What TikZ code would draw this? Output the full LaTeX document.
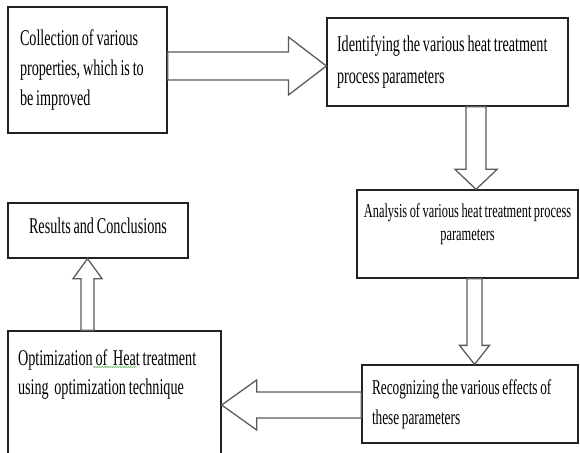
\documentclass[tikz,border=0pt]{standalone}
\usepackage{fontspec}
\usepackage{tikz}
\usetikzlibrary{calc, decorations.pathmorphing}
\newfontfamily\boxfont{Liberation Serif}[FakeStretch=0.63, WordSpace={0.8,0,0}]
\definecolor{bcol}{HTML}{222222}
\definecolor{acol}{HTML}{5A5A5A}
\definecolor{wcol}{HTML}{43A843}

% hollow block arrow: start, tip, shaft half width, head half width, head length
\newcommand{\blockarrow}[5]{%
  \draw[barrow] let \p1=(#1), \p2=(#2), \n1={veclen(\x2-\x1,\y2-\y1)},
    \n2={(\x2-\x1)/\n1}, \n3={(\y2-\y1)/\n1} in
    ({\x1-#3*\n3},{\y1+#3*\n2}) -- ({\x2-#5*\n2-#3*\n3},{\y2-#5*\n3+#3*\n2})
    -- ({\x2-#5*\n2-#4*\n3},{\y2-#5*\n3+#4*\n2}) -- (\x2,\y2)
    -- ({\x2-#5*\n2+#4*\n3},{\y2-#5*\n3-#4*\n2})
    -- ({\x2-#5*\n2+#3*\n3},{\y2-#5*\n3-#3*\n2})
    -- ({\x1+#3*\n3},{\y1-#3*\n2}) -- cycle;}

\begin{document}
\begin{tikzpicture}[scale=1,
  procbox/.style={draw=bcol, line width=0.9pt, inner xsep=0.25cm, inner ysep=0pt,
    align=flush left, font=\boxfont\fontsize{16pt}{21.3pt}\selectfont},
  barrow/.style={draw=acol, fill=white, line width=0.9pt, line join=miter}]
\useasboundingbox (0,0) rectangle (14.500,-11.325);
\clip (0,0) rectangle (14.500,-11.325);
% boxes
\node[procbox, inner xsep=0.3cm, text width=3.375cm, minimum height=3.15cm] (collect) at (2.188,-1.750)
  {Collection of various\\properties, which is to\\be improved};
\node[procbox, text width=5.525cm, minimum height=2.2cm, font=\boxfont\fontsize{16pt}{22.8pt}\selectfont] (identify) at (11.188,-1.550)
  {Identifying the various heat treatment\\process parameters};
\node[procbox, inner xsep=0.05cm, text width=5.425cm, minimum height=2.2cm, align=flush center,
  font=\boxfont\fontsize{14pt}{16.4pt}\selectfont] (analysis) at (11.688,-5.850)
  {Analysis of various heat treatment process\\parameters\\\mbox{}};
\node[procbox, text width=4.9cm, minimum height=1.95cm, font=\boxfont\fontsize{15pt}{21.3pt}\selectfont] (recog) at (11.750,-10.100)
  {Recognizing the various effects of\\these parameters};
\node[procbox, text width=4.825cm, minimum height=3.55cm] (optim) at (2.863,-10.050)
  {Optimization of\ \ Heat treatment\\using\ \ optimization technique\\\mbox{}\\\mbox{}};
\node[procbox, text width=4.0cm, minimum height=1.375cm, text depth=0.25cm, align=flush center] (results) at (2.450,-5.763)
  {Results and Conclusions};
% arrow ends
\coordinate (a1s) at ($(collect.east)+(0,0.100)$);
\coordinate (a2s) at ($(identify.south)+(0.713,0)$);
\coordinate (a3s) at ($(analysis.south)+(0.175,0)$);
\coordinate (a4s) at ($(recog.west)+(0,-0.025)$);
\coordinate (a5s) at ($(optim.north)+(-0.675,0)$);
% block arrows
\blockarrow{a1s}{identify.west |- a1s}{0.35cm}{0.725cm}{0.95cm}
\blockarrow{a2s}{a2s |- analysis.north}{0.25cm}{0.525cm}{0.5cm}
\blockarrow{a3s}{a3s |- recog.north}{0.1875cm}{0.375cm}{0.475cm}
\blockarrow{a4s}{optim.east |- a4s}{0.325cm}{0.625cm}{0.875cm}
\blockarrow{a5s}{a5s |- results.south}{0.1625cm}{0.3625cm}{0.5cm}
% spell mark
\draw[wcol, line width=0.3pt, decorate, decoration={snake, amplitude=0.35pt, segment length=1.3pt}]
  (2.325,-9.175) -- (3.425,-9.175);
\end{tikzpicture}
\end{document}
